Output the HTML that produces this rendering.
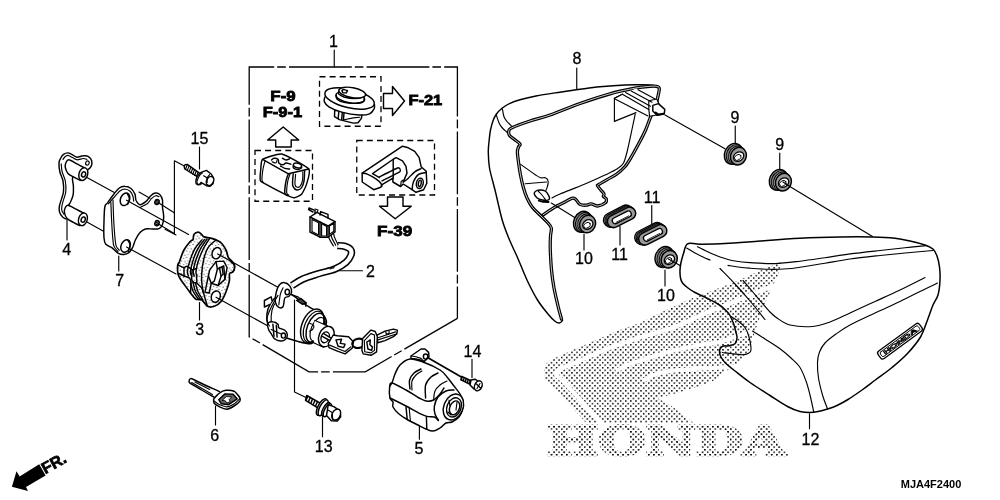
<!DOCTYPE html>
<html lang="en">
<head>
<meta charset="utf-8">
<title>Side Cover / Combination Switch Parts Diagram</title>
<style>
html,body{margin:0;padding:0;background:#fff;}
body{width:1000px;height:500px;overflow:hidden;}
svg{display:block;}
.l{font-family:"Liberation Sans",sans-serif;font-size:16px;fill:#000;stroke:#000;stroke-width:0.3px;}
.b{font-family:"Liberation Sans",sans-serif;font-weight:bold;fill:#000;}
.k{fill:none;stroke:#000;stroke-width:1.45;stroke-linecap:round;stroke-linejoin:round;}
.t{fill:none;stroke:#000;stroke-width:1.15;stroke-linecap:round;stroke-linejoin:round;}
.w{fill:#fff;stroke:#000;stroke-width:1.45;stroke-linecap:round;stroke-linejoin:round;}
.d{fill:none;stroke:#000;stroke-width:1.3;stroke-dasharray:6 4.1;}
.dd{fill:none;stroke:#000;stroke-width:1.3;stroke-dasharray:62.8 3 8.6 3.2;stroke-linejoin:miter;}
</style>
</head>
<body>
<svg width="1000" height="500" viewBox="0 0 1000 500" style="filter:grayscale(1)">
<defs>
<pattern id="ht" x="0.3" y="0.9" width="5.12" height="5.12" patternUnits="userSpaceOnUse">
<rect x="0" y="0" width="1.5" height="1.5" fill="#0a0a0a"/>
<rect x="2.56" y="2.56" width="1.5" height="1.5" fill="#0a0a0a"/>
</pattern>
<pattern id="sp" width="6.4" height="6.4" patternUnits="userSpaceOnUse">
<circle cx="1.0" cy="1.3" r="0.55" fill="#222"/><circle cx="4.4" cy="2.3" r="0.55" fill="#222"/><circle cx="2.5" cy="4.8" r="0.55" fill="#222"/><circle cx="5.6" cy="5.6" r="0.5" fill="#222"/>
</pattern>
</defs>
<rect width="1000" height="500" fill="#fff"/>

<!-- HALFTONE-WING -->
<g id="wing">
<path fill="url(#ht)" d="M782.0 261.5L770.0 266.5L755.0 273.0L736.0 281.4L718.0 288.5L692.8 298.0L664.0 311.0L640.0 323.0L617.0 331.0L581.0 346.5L556.0 357.5L548.0 361.5L545.0 365.0L544.5 370.0L545.0 378.5L552.0 386.0L566.0 401.0L580.0 416.0L586.0 423.0L693.8 423.0L674.0 407.7L661.0 400.0L657.0 398.0L672.0 394.5L700.0 386.0L714.0 380.5L722.0 373.0L736.0 366.0L748.0 352.0L753.0 338.0L758.0 322.0L765.0 303.0L772.0 288.0L778.0 275.0Z"/>
<path fill="none" stroke="#fff" stroke-width="4.2" stroke-linejoin="round" d="M779.0 284.0C775.8 285.2 768.0 287.8 760.0 291.0C752.0 294.2 739.8 299.4 731.0 303.0C722.2 306.6 716.3 308.5 707.0 312.5C697.7 316.5 686.2 322.8 675.0 327.0C663.8 331.2 650.5 334.2 640.0 337.5C629.5 340.8 619.5 344.2 612.0 347.0C604.5 349.8 601.0 351.4 595.0 354.0C589.0 356.6 582.5 359.4 576.0 362.4C569.5 365.4 558.0 368.7 556.0 372.0C554.0 375.3 560.0 377.4 564.0 382.0C568.0 386.6 574.0 392.8 580.0 399.5C586.0 406.2 596.2 417.6 600.0 422.0C603.8 426.4 602.5 425.3 603.0 426.0"/>
<path fill="none" stroke="#fff" stroke-width="4.0" stroke-linejoin="round" d="M752.0 331.0C749.3 331.9 741.7 334.6 736.0 336.5C730.3 338.4 723.7 341.2 718.0 342.5C712.3 343.8 707.0 343.7 702.0 344.5C697.0 345.3 693.3 346.3 688.0 347.5C682.7 348.7 675.5 350.1 670.0 351.5C664.5 352.9 660.0 354.5 655.0 356.0C650.0 357.5 644.8 358.9 640.0 360.5C635.2 362.1 630.0 363.8 626.0 365.5C622.0 367.2 617.7 370.1 616.0 371.0"/>
<path fill="none" stroke="#fff" stroke-width="4.0" stroke-linejoin="round" d="M740.0 366.0C736.8 366.2 726.7 367.0 721.0 367.4C715.3 367.8 711.2 367.9 706.0 368.2C700.8 368.5 696.0 368.8 690.0 369.3C684.0 369.8 675.8 370.1 670.0 371.0C664.2 371.9 659.5 372.9 655.0 374.5C650.5 376.1 645.0 379.5 643.0 380.5"/>
<text x="546.8" y="454.8" font-family="DejaVu Serif,Liberation Serif,serif" font-weight="bold" font-size="39" textLength="238.5" lengthAdjust="spacingAndGlyphs" fill="url(#ht)" stroke="url(#ht)" stroke-width="2.8" stroke-linejoin="miter">HONDA</text>
</g>

<!-- LEADERS -->
<g id="leaders" class="t">
<path d="M334.25 50V67"/>
<path d="M199.5 147V169"/>
<path d="M67 220V240"/>
<path d="M118.75 256V271"/>
<path d="M199.5 302.5V320"/>
<path d="M332.5 270.75H362.5"/>
<path d="M215.5 406V425"/>
<path d="M322.5 417.5V436.75"/>
<path d="M419.4 426.6V439.2"/>
<path d="M472 359.4V377.6"/>
<path d="M576.75 68V88.5"/>
<path d="M735.25 126V144"/>
<path d="M779.75 153V171"/>
<path d="M584 234V250"/>
<path d="M620 226V245"/>
<path d="M651.75 205.5V224"/>
<path d="M665 270V286"/>
<path d="M809.5 413.75V428.75"/>
<path d="M665 115L725 148.75"/>
<path d="M789 186L872.5 236.5"/>
</g>


<g id="frames">
<path class="dd" d="M249.2 104.8V67H457.4V318.4"/>
<path class="dd" d="M249.2 104.8V336.8L309 371.8H365.3L457.4 318.4" stroke-dashoffset="62.8"/>
<rect class="d" x="319.5" y="76.75" width="61.5" height="49.5"/>
<rect class="d" x="255" y="150.5" width="57.5" height="50.75"/>
<rect class="d" x="356.75" y="140.5" width="77.75" height="54.5"/>
<path class="w" d="M383.5 93.5H392.5V86.5L404.5 101L392.5 115.5V108.5H383.5Z" stroke-width="1"/>
<path class="w" d="M283.2 127L298.7 140H291.2V147H275.7V140H267.7Z" stroke-width="1"/>
<path class="w" d="M387.5 197H403V206.25H411.25L395.2 218.75L379.5 206.25H387.5Z" stroke-width="1"/>
<path fill="#000" d="M11.9 486.7L16.5 471.3L19.6 476.4L39.2 464.3L45.6 475.6L26 487L28 490.9Z"/>
</g>

<!-- PARTS -->
<g id="parts">
<path fill="#fff" stroke="none" d="M659.3 88.3C658.4 87.8 657.2 86.1 654.0 85.5C650.8 84.9 644.8 84.9 640.0 84.8C635.2 84.7 631.7 84.7 625.0 85.0C618.3 85.3 607.5 86.1 600.0 86.8C592.5 87.5 586.7 88.4 580.0 89.3C573.3 90.2 567.3 91.1 560.0 92.2C552.7 93.3 542.7 94.7 536.0 96.0C529.3 97.3 524.3 98.6 520.0 99.8C515.7 101.0 513.0 101.9 510.0 103.3C507.0 104.7 504.2 106.5 502.0 108.3C499.8 110.1 497.9 112.0 496.5 114.0C495.1 116.0 494.3 117.3 493.3 120.0C492.3 122.7 491.2 126.7 490.5 130.0C489.8 133.3 489.6 136.3 489.2 140.0C488.8 143.7 488.2 147.3 488.3 152.0C488.4 156.7 488.4 161.7 489.5 168.0C490.6 174.3 492.8 181.2 495.0 190.0C497.2 198.8 500.0 212.5 502.5 221.0C505.0 229.5 507.5 234.9 510.0 241.0C512.5 247.1 514.7 251.0 517.5 257.5C520.3 264.0 523.7 272.9 527.0 280.0C530.3 287.1 534.0 294.3 537.5 300.0C541.0 305.7 545.1 310.4 548.0 314.0C550.9 317.6 553.1 319.8 555.0 321.3C556.9 322.8 558.2 323.1 559.5 323.0C560.8 322.9 562.8 323.3 562.5 320.5C562.2 317.7 559.4 311.4 558.0 306.0C556.6 300.6 555.1 294.0 554.0 288.0C552.9 282.0 552.1 276.3 551.5 270.0C550.9 263.7 550.5 255.7 550.3 250.0C550.1 244.3 550.3 239.7 550.5 236.0C550.7 232.3 551.8 230.2 551.3 228.0C550.8 225.8 549.4 224.7 547.5 222.5C545.6 220.3 542.5 217.5 540.0 215.0C537.5 212.5 534.7 210.3 532.5 207.5C530.3 204.7 528.5 201.2 527.0 198.0C525.5 194.8 524.6 191.8 523.5 188.0C522.4 184.2 521.3 179.2 520.5 175.0C519.7 170.8 519.1 166.8 518.6 163.0C518.1 159.2 517.4 154.7 517.4 152.0C517.4 149.3 518.1 148.3 518.5 147.0C518.9 145.7 520.7 145.2 520.0 144.0C519.3 142.8 516.2 140.9 514.5 139.5C512.8 138.1 510.6 136.9 509.6 135.5C508.7 134.1 508.4 132.3 508.8 131.0C509.2 129.7 508.5 129.5 512.0 127.8C515.5 126.1 523.7 123.1 530.0 121.0C536.3 118.9 541.7 117.9 550.0 115.0C558.3 112.1 570.0 107.0 580.0 103.5C590.0 100.0 600.8 96.3 610.0 93.8C619.2 91.2 628.3 89.5 635.0 88.2C641.7 87.0 646.4 86.6 650.0 86.3C653.6 86.0 655.0 86.0 656.5 86.4C658.0 86.8 658.8 88.3 659.3 88.6C659.8 88.9 660.2 88.8 659.3 88.3Z"/>
<path class="k" d="M659.3 88.3C658.4 87.8 657.2 86.1 654.0 85.5C650.8 84.9 644.8 84.9 640.0 84.8C635.2 84.7 631.7 84.7 625.0 85.0C618.3 85.3 607.5 86.1 600.0 86.8C592.5 87.5 586.7 88.4 580.0 89.3C573.3 90.2 567.3 91.1 560.0 92.2C552.7 93.3 542.7 94.7 536.0 96.0C529.3 97.3 524.3 98.6 520.0 99.8C515.7 101.0 513.0 101.9 510.0 103.3C507.0 104.7 504.2 106.5 502.0 108.3C499.8 110.1 497.9 112.0 496.5 114.0C495.1 116.0 494.3 117.3 493.3 120.0C492.3 122.7 491.2 126.7 490.5 130.0C489.8 133.3 489.6 136.3 489.2 140.0C488.8 143.7 488.2 147.3 488.3 152.0C488.4 156.7 488.4 161.7 489.5 168.0C490.6 174.3 492.8 181.2 495.0 190.0C497.2 198.8 500.0 212.5 502.5 221.0C505.0 229.5 507.5 234.9 510.0 241.0C512.5 247.1 514.7 251.0 517.5 257.5C520.3 264.0 523.7 272.9 527.0 280.0C530.3 287.1 534.0 294.3 537.5 300.0C541.0 305.7 545.1 310.4 548.0 314.0C550.9 317.6 553.1 319.8 555.0 321.3C556.9 322.8 558.2 323.1 559.5 323.0C560.8 322.9 562.0 320.9 562.5 320.5"/>
<path d="M561.5 319.0C560.9 316.8 559.2 311.2 558.0 306.0C556.8 300.8 555.1 294.0 554.0 288.0C552.9 282.0 552.1 276.3 551.5 270.0C550.9 263.7 550.5 255.7 550.3 250.0C550.1 244.3 550.3 239.7 550.5 236.0C550.7 232.3 551.8 230.2 551.3 228.0C550.8 225.8 549.4 224.7 547.5 222.5C545.6 220.3 542.5 217.5 540.0 215.0C537.5 212.5 534.7 210.3 532.5 207.5C530.3 204.7 528.5 201.2 527.0 198.0C525.5 194.8 524.6 191.8 523.5 188.0C522.4 184.2 521.3 179.2 520.5 175.0C519.7 170.8 519.1 166.8 518.6 163.0C518.1 159.2 517.4 154.7 517.4 152.0C517.4 149.3 518.1 148.3 518.5 147.0C518.9 145.7 520.7 145.2 520.0 144.0C519.3 142.8 516.2 140.9 514.5 139.5C512.8 138.1 510.6 136.9 509.6 135.5C508.7 134.1 508.4 132.3 508.8 131.0C509.2 129.7 508.5 129.5 512.0 127.8C515.5 126.1 523.7 123.1 530.0 121.0C536.3 118.9 541.7 117.9 550.0 115.0C558.3 112.1 570.0 107.0 580.0 103.5C590.0 100.0 600.8 96.3 610.0 93.8C619.2 91.2 628.3 89.5 635.0 88.2C641.7 87.0 646.4 86.6 650.0 86.3C653.6 86.0 655.0 86.0 656.5 86.4C658.0 86.8 659.1 86.5 659.3 88.6C659.4 90.7 658.0 95.8 657.4 99.0C656.8 102.2 656.6 105.2 655.5 108.0C654.4 110.8 652.6 112.3 651.0 116.0C649.4 119.7 647.6 125.5 645.6 130.0C643.6 134.5 641.6 138.3 639.2 142.8C636.8 147.3 633.6 153.2 631.2 157.2C628.8 161.2 627.2 164.0 624.8 166.8C622.4 169.6 619.7 171.9 616.8 174.0C613.9 176.1 610.2 177.8 607.2 179.6C604.2 181.4 600.1 183.5 598.5 184.6C596.9 185.7 597.4 185.3 597.8 186.2C598.2 187.1 599.8 188.7 600.8 190.0C601.8 191.3 603.6 192.9 604.0 194.0C604.4 195.1 603.0 195.6 603.4 196.4C603.8 197.2 605.9 197.7 606.2 198.8C606.5 199.9 606.8 201.6 605.4 202.8C604.0 204.0 600.0 205.8 597.6 206.0C595.2 206.2 593.1 203.9 591.2 203.8C589.3 203.7 588.3 205.1 586.4 205.2C584.5 205.3 581.8 205.4 580.0 204.4C578.2 203.4 576.9 200.2 575.6 199.2C574.3 198.2 574.1 197.8 572.0 198.4C569.9 199.0 566.0 201.5 563.0 203.0C560.0 204.5 557.3 205.6 554.0 207.6C550.7 209.6 545.0 213.6 543.2 214.8" fill="none" stroke="#000" stroke-width="3.3" stroke-linecap="round" stroke-linejoin="round"/><path d="M561.5 319.0C560.9 316.8 559.2 311.2 558.0 306.0C556.8 300.8 555.1 294.0 554.0 288.0C552.9 282.0 552.1 276.3 551.5 270.0C550.9 263.7 550.5 255.7 550.3 250.0C550.1 244.3 550.3 239.7 550.5 236.0C550.7 232.3 551.8 230.2 551.3 228.0C550.8 225.8 549.4 224.7 547.5 222.5C545.6 220.3 542.5 217.5 540.0 215.0C537.5 212.5 534.7 210.3 532.5 207.5C530.3 204.7 528.5 201.2 527.0 198.0C525.5 194.8 524.6 191.8 523.5 188.0C522.4 184.2 521.3 179.2 520.5 175.0C519.7 170.8 519.1 166.8 518.6 163.0C518.1 159.2 517.4 154.7 517.4 152.0C517.4 149.3 518.1 148.3 518.5 147.0C518.9 145.7 520.7 145.2 520.0 144.0C519.3 142.8 516.2 140.9 514.5 139.5C512.8 138.1 510.6 136.9 509.6 135.5C508.7 134.1 508.4 132.3 508.8 131.0C509.2 129.7 508.5 129.5 512.0 127.8C515.5 126.1 523.7 123.1 530.0 121.0C536.3 118.9 541.7 117.9 550.0 115.0C558.3 112.1 570.0 107.0 580.0 103.5C590.0 100.0 600.8 96.3 610.0 93.8C619.2 91.2 628.3 89.5 635.0 88.2C641.7 87.0 646.4 86.6 650.0 86.3C653.6 86.0 655.0 86.0 656.5 86.4C658.0 86.8 659.1 86.5 659.3 88.6C659.4 90.7 658.0 95.8 657.4 99.0C656.8 102.2 656.6 105.2 655.5 108.0C654.4 110.8 652.6 112.3 651.0 116.0C649.4 119.7 647.6 125.5 645.6 130.0C643.6 134.5 641.6 138.3 639.2 142.8C636.8 147.3 633.6 153.2 631.2 157.2C628.8 161.2 627.2 164.0 624.8 166.8C622.4 169.6 619.7 171.9 616.8 174.0C613.9 176.1 610.2 177.8 607.2 179.6C604.2 181.4 600.1 183.5 598.5 184.6C596.9 185.7 597.4 185.3 597.8 186.2C598.2 187.1 599.8 188.7 600.8 190.0C601.8 191.3 603.6 192.9 604.0 194.0C604.4 195.1 603.0 195.6 603.4 196.4C603.8 197.2 605.9 197.7 606.2 198.8C606.5 199.9 606.8 201.6 605.4 202.8C604.0 204.0 600.0 205.8 597.6 206.0C595.2 206.2 593.1 203.9 591.2 203.8C589.3 203.7 588.3 205.1 586.4 205.2C584.5 205.3 581.8 205.4 580.0 204.4C578.2 203.4 576.9 200.2 575.6 199.2C574.3 198.2 574.1 197.8 572.0 198.4C569.9 199.0 566.0 201.5 563.0 203.0C560.0 204.5 557.3 205.6 554.0 207.6C550.7 209.6 545.0 213.6 543.2 214.8" fill="none" stroke="#fff" stroke-width="0.8" stroke-linecap="round" stroke-linejoin="round"/>
<path class="t" d="M512.0 126.4C511.2 125.6 508.3 123.1 507.0 121.5C505.7 119.9 504.8 118.9 504.0 116.8C503.2 114.7 502.7 110.1 502.4 108.8"/>
<path class="t" d="M507.0 132.3C506.2 131.5 503.3 129.0 502.0 127.5C500.7 126.0 500.2 125.4 499.2 123.2C498.2 121.0 496.7 116.0 496.2 114.6"/>
<path class="t" d="M635.2 114.2C634.8 116.3 633.8 121.0 632.5 127.0C631.2 133.0 629.0 144.0 627.5 150.0C626.0 156.0 625.2 159.8 623.5 163.0C621.8 166.2 620.1 167.0 617.0 169.0C613.9 171.0 610.3 172.5 605.0 175.0C599.7 177.5 592.5 180.8 585.0 184.0C577.5 187.2 565.5 191.7 560.0 194.0C554.5 196.3 553.3 197.3 552.0 198.0"/>
<path class="t" d="M520.7 164.4C521.8 165.2 524.5 167.1 527.0 168.9C529.5 170.7 533.8 173.7 536.0 175.2C538.2 176.7 538.9 177.2 540.5 177.7C542.1 178.1 544.6 177.3 545.9 177.9C547.2 178.5 548.0 180.0 548.2 181.5C548.4 183.0 547.7 185.4 547.3 186.9C546.9 188.4 546.1 189.9 545.9 190.5"/>
<path class="t" d="M525.2 183.8L546.5 182.0"/>
<path class="t" d="M622.4 94.2L614.4 98.2L614.4 121.4L636.0 112.6"/>
<path d="M622.4 94.2L636.0 88.6L656.8 99.0L659.2 104.6L656.8 115.0L649.6 116.6L647.5 115.5L615.5 99.0Z" fill="#fff" stroke="none"/>
<path class="t" d="M614.4 98.2L622.4 94.2L648.8 109.4L649.6 116.3"/>
<path class="t" d="M615.5 99.2L648.0 116.0"/>
<path class="t" d="M625.6 92.6L650.4 106.2"/>
<path class="t" d="M631.2 91.0L652.0 102.2"/>
<path class="t" d="M638.0 89.8L655.2 99.0"/>
<path class="t" d="M648.8 109.4L648.8 100.8L656.8 99.0L659.2 104.6L656.8 115.0L649.6 116.3"/>
<path class="w" d="M652.8 105.4L658.4 103.6L664.8 109.4L664.2 114.0L657.0 115.2L652.8 111.0Z"/>
<path class="k" d="M655.5 112.5L658.5 114.6L663.5 113.8" style="stroke-width:2"/>
<path class="w" d="M534.2 193.7C534.1 192.6 535.0 191.6 536.0 191.0C537.0 190.4 539.0 189.9 540.5 189.9C542.0 189.9 543.7 190.2 545.0 191.0C546.3 191.8 547.5 193.3 548.2 194.6C549.0 195.9 549.7 197.9 549.5 198.9C549.3 199.9 548.3 200.2 547.1 200.4C545.9 200.6 544.0 200.4 542.3 200.0C540.6 199.6 538.2 198.8 536.9 197.7C535.5 196.6 534.4 194.8 534.2 193.7Z"/>
<path class="t" d="M538.5 191.5C539.1 192.1 540.8 193.6 542.0 195.0C543.2 196.4 544.9 199.0 545.5 199.8"/>
<path class="k" d="M538.8 200.6L543.0 201.8L548.6 202.0" style="stroke-width:1.8"/>
<path class="t" d="M551.3 203.1L574.7 217.5"/>
<path fill="#fff" fill-opacity="0" stroke="#000" stroke-width="1.5" stroke-linejoin="round" d="M687.5 243.8C690.2 242.2 693.8 244.2 700.0 244.2C706.2 244.1 715.0 244.0 725.0 243.5C735.0 243.0 747.5 241.9 760.0 241.0C772.5 240.1 786.7 239.0 800.0 238.3C813.3 237.6 827.9 237.2 840.0 237.0C852.1 236.8 863.3 236.8 872.5 237.0C881.7 237.2 888.8 237.6 895.0 238.3C901.2 239.0 905.0 239.9 910.0 241.0C915.0 242.1 921.2 243.7 925.0 245.0C928.8 246.3 931.0 247.2 933.0 249.0C935.0 250.8 935.9 253.0 937.0 256.0C938.1 259.0 939.0 263.0 939.5 267.0C940.0 271.0 940.2 275.3 940.0 280.0C939.8 284.7 939.2 290.8 938.0 295.0C936.8 299.2 934.8 300.8 933.0 305.0C931.2 309.2 929.6 314.7 927.5 320.0C925.4 325.3 923.9 331.3 920.5 337.0C917.1 342.7 911.8 348.9 907.0 354.0C902.2 359.1 897.2 363.2 892.0 367.5C886.8 371.8 881.0 375.8 876.0 379.5C871.0 383.2 866.7 386.7 862.0 390.0C857.3 393.3 852.2 396.9 848.0 399.5C843.8 402.1 840.4 403.9 837.0 405.5C833.6 407.1 830.7 408.0 827.5 409.0C824.3 410.0 820.9 410.9 818.0 411.5C815.1 412.1 813.0 412.5 810.0 412.5C807.0 412.5 803.8 412.5 800.0 411.5C796.2 410.5 792.5 409.2 787.5 406.5C782.5 403.8 776.2 399.5 770.0 395.5C763.8 391.5 755.8 386.6 750.0 382.5C744.2 378.4 739.2 374.3 735.0 371.0C730.8 367.7 727.3 364.8 725.0 362.5C722.7 360.2 721.9 358.7 721.0 357.0C720.1 355.3 719.6 354.0 719.5 352.5C719.4 351.0 719.8 349.1 720.5 348.0C721.2 346.9 722.1 346.4 723.5 346.0C724.9 345.6 727.1 346.2 729.0 345.8C730.9 345.4 733.7 345.1 735.0 343.8C736.3 342.5 736.8 339.9 737.0 338.0C737.2 336.1 736.6 334.9 736.0 332.5C735.4 330.1 734.5 326.3 733.5 323.5C732.5 320.7 731.2 317.7 730.0 315.5C728.8 313.3 728.0 312.4 726.0 310.5C724.0 308.6 721.1 306.0 718.0 304.0C714.9 302.0 711.3 300.4 707.5 298.5C703.7 296.6 698.2 294.2 695.0 292.5C691.8 290.8 690.1 289.6 688.0 288.0C685.9 286.4 683.8 284.7 682.5 283.0C681.2 281.3 680.9 280.2 680.5 278.0C680.1 275.8 679.9 272.6 680.0 270.0C680.1 267.4 680.4 265.2 681.0 262.5C681.6 259.8 682.4 256.6 683.5 253.5C684.6 250.4 684.8 245.4 687.5 243.8Z"/>
<path class="t" d="M686.6 248.0C688.0 248.8 692.3 251.5 695.0 253.0C697.7 254.5 700.5 255.8 703.0 257.0C705.5 258.2 708.8 259.5 710.0 260.0"/>
<path class="t" d="M697.4 246.8C698.7 247.4 702.1 249.1 705.0 250.5C707.9 251.9 711.7 253.7 715.0 255.0C718.3 256.3 721.7 257.5 725.0 258.5C728.3 259.5 730.8 260.3 735.0 261.0C739.2 261.7 743.3 262.2 750.0 262.6C756.7 263.0 766.7 263.8 775.0 263.6C783.3 263.4 791.7 262.2 800.0 261.2C808.3 260.2 816.7 258.9 825.0 257.7C833.3 256.5 840.8 255.1 850.0 253.9C859.2 252.7 870.8 251.5 880.0 250.5C889.2 249.5 897.3 248.6 905.0 247.8C912.7 247.0 922.5 246.0 926.0 245.6"/>
<path class="t" d="M728.0 265.4C730.0 265.7 736.3 266.7 740.0 267.2C743.7 267.7 745.0 267.8 750.0 268.2C755.0 268.6 763.8 269.2 770.0 269.3C776.2 269.4 782.5 269.1 787.5 268.8C792.5 268.5 793.8 268.2 800.0 267.3C806.2 266.4 816.7 264.6 825.0 263.2C833.3 261.8 840.8 260.3 850.0 259.0C859.2 257.7 870.8 256.5 880.0 255.5C889.2 254.5 896.2 253.8 905.0 253.0C913.8 252.2 928.3 250.9 933.0 250.5"/>
<path class="t" d="M720.0 268.5C722.5 271.1 730.0 278.6 735.0 284.0C740.0 289.4 745.0 295.1 750.0 301.0C755.0 306.9 762.5 316.4 765.0 319.5"/>
<path class="t" d="M743.0 280.5C744.5 282.2 749.2 287.7 752.0 291.0C754.8 294.3 757.0 297.0 760.0 300.5C763.0 304.0 767.2 309.1 770.0 312.0C772.8 314.9 773.7 315.8 777.0 318.0C780.3 320.2 784.1 323.6 790.0 325.0C795.9 326.4 805.8 327.0 812.5 326.5C819.2 326.0 823.8 324.2 830.0 322.0C836.2 319.8 842.5 316.4 850.0 313.0C857.5 309.6 866.7 305.3 875.0 301.5C883.3 297.7 891.7 294.0 900.0 290.0C908.3 286.0 920.8 279.6 925.0 277.5"/>
<path class="t" d="M937.5 283.0C934.6 284.4 926.2 288.4 920.0 291.5C913.8 294.6 907.5 297.9 900.0 301.5C892.5 305.1 883.3 309.1 875.0 313.0C866.7 316.9 856.5 321.5 850.0 325.0C843.5 328.5 840.2 331.0 836.0 334.0C831.8 337.0 827.8 340.0 825.0 343.0C822.2 346.0 820.8 348.8 819.5 352.0C818.2 355.2 817.7 358.2 817.5 362.5C817.3 366.8 817.7 372.6 818.5 378.0C819.3 383.4 821.0 389.8 822.5 395.0C824.0 400.2 826.7 406.7 827.5 409.0"/>
<path class="t" d="M752.5 331.0C754.6 332.3 760.4 336.0 765.0 339.0C769.6 342.0 775.7 345.6 780.0 348.8C784.3 352.0 787.7 354.9 791.0 358.0C794.3 361.1 797.5 363.7 800.0 367.5C802.5 371.3 804.3 376.4 806.0 381.0C807.7 385.6 808.7 389.8 810.0 395.0C811.3 400.2 813.2 409.4 813.8 412.3"/>
<path class="t" d="M731.0 316.5C732.2 317.2 735.7 319.2 738.0 321.0C740.3 322.8 743.2 324.8 745.0 327.5C746.8 330.2 748.0 333.2 749.0 337.0C750.0 340.8 751.2 347.2 751.0 350.0C750.8 352.8 749.4 352.7 748.0 353.5C746.6 354.3 745.2 354.6 742.5 354.7C739.8 354.8 735.3 354.2 732.0 353.8C728.7 353.4 724.1 352.7 722.5 352.5"/>
<g transform="translate(900,341.2) rotate(-36.2)"><rect x="-25.6" y="-4.6" width="51.2" height="9.2" rx="2.6" class="w" style="stroke-width:1.3"/><rect x="-23.4" y="-2.7" width="46.8" height="5.4" rx="1.6" class="t" style="stroke-width:0.9"/><text x="0" y="1.9" text-anchor="middle" font-family="Liberation Sans,sans-serif" font-weight="bold" font-size="5.2" textLength="40" lengthAdjust="spacingAndGlyphs" fill="#fff" stroke="#000" stroke-width="0.6">HONDA</text></g>
<path class="t" d="M86.9 177.4 L114.8 192.7"/>
<path class="t" d="M86.0 221.5 L104.0 231.4"/>
<path class="t" d="M176.0 235.0 L165.0 229.3"/>
<path class="w" d="M60.8 158.0C61.5 156.5 62.3 155.2 63.5 154.4C64.7 153.5 66.3 152.8 68.0 152.9C69.6 153.1 71.9 154.5 73.4 155.3C74.9 156.0 75.3 157.1 77.0 157.2C78.6 157.3 81.4 155.9 83.3 155.8C85.1 155.6 86.7 155.5 88.1 156.3C89.6 157.2 91.3 159.1 91.7 160.8C92.2 162.5 91.7 165.1 91.0 166.6C90.4 168.1 88.9 168.9 87.8 169.8C86.6 170.7 86.3 171.6 84.2 172.0C82.1 172.3 77.1 170.9 75.2 172.0C73.2 173.0 72.8 175.9 72.5 178.3C72.2 180.7 73.3 183.5 73.4 186.4C73.5 189.2 73.6 192.7 73.0 195.4C72.5 198.1 71.0 200.6 70.2 202.6C69.3 204.5 67.8 204.7 68.0 207.1C68.2 209.5 71.7 215.0 71.6 217.0C71.4 219.0 68.6 219.1 67.1 219.1C65.6 219.1 63.9 218.2 62.6 217.0C61.3 215.7 59.9 213.4 59.4 211.6C58.8 209.8 59.1 208.1 59.4 206.2C59.7 204.2 60.5 202.3 61.2 199.9C61.8 197.5 63.2 194.9 63.5 191.8C63.8 188.6 63.6 184.3 63.0 181.0C62.4 177.7 60.6 175.0 59.9 172.0C59.2 169.0 58.8 165.3 59.0 163.0C59.1 160.7 60.0 159.4 60.8 158.0Z"/>
<path class="t" d="M63.0 159.4C63.3 158.9 64.5 157.2 65.3 156.5C66.1 155.9 66.8 155.3 68.0 155.4C69.2 155.6 71.0 156.9 72.5 157.6C74.0 158.3 75.2 159.6 77.0 159.8C78.8 159.9 81.6 158.6 83.3 158.5C84.9 158.4 86.3 159.2 86.9 159.4"/>
<path class="t" d="M61.2 163.9C61.3 165.2 61.5 169.1 62.2 172.0C62.9 174.8 64.7 177.7 65.3 181.0C65.9 184.3 66.1 188.6 65.8 191.8C65.5 194.9 64.2 197.5 63.5 199.9C62.8 202.3 62.1 204.4 61.9 206.2C61.6 208.0 61.5 209.3 61.9 210.7C62.2 212.0 63.7 213.7 64.0 214.3"/>
<path class="w" d="M84.7 168.0C83.4 167.3 79.6 165.3 77.0 163.9C74.3 162.5 70.8 159.9 68.9 159.8C67.0 159.6 66.4 161.7 65.8 163.0C65.2 164.3 64.9 165.8 65.3 167.5C65.7 169.2 66.5 171.8 68.0 173.4C69.5 175.1 72.3 176.2 74.3 177.4C76.3 178.6 79.2 179.9 80.2 180.4"/>
<ellipse class="w" cx="83.3" cy="174.1" rx="4.3" ry="6.5" transform="rotate(18 83.3 174.1)"/>
<ellipse class="k" cx="83.6" cy="174.4" rx="2.0" ry="2.7" transform="rotate(18 83.6 174.4)"/>
<ellipse class="t" cx="87.4" cy="163.0" rx="1.7" ry="2.2" transform="rotate(20 87.4 163.0)"/>
<path class="w" d="M84.2 213.4C82.8 212.7 78.8 210.6 76.1 209.2C73.4 207.9 69.8 205.5 68.0 205.3C66.2 205.1 65.7 206.8 65.1 208.0C64.5 209.2 64.1 210.7 64.4 212.5C64.7 214.2 65.6 216.8 67.1 218.4C68.6 220.1 71.3 221.2 73.4 222.4C75.5 223.6 78.6 225.1 79.7 225.6"/>
<ellipse class="w" cx="82.9" cy="219.3" rx="4.3" ry="6.5" transform="rotate(18 82.9 219.3)"/>
<ellipse class="k" cx="83.2" cy="219.6" rx="2.0" ry="2.7" transform="rotate(18 83.2 219.6)"/>
<path class="w" d="M104.9 206.5C105.5 203.3 106.2 204.8 107.6 202.9C108.9 201.0 111.0 197.6 113.0 195.2C114.9 192.7 117.3 189.5 119.3 188.0C121.2 186.5 122.7 186.1 124.7 186.2C126.6 186.2 129.3 187.2 131.0 188.5C132.7 189.8 134.1 191.9 134.9 193.9C135.8 195.8 135.2 198.4 136.0 200.2C136.9 202.0 138.3 204.5 140.0 204.7C141.7 204.8 144.5 202.6 146.3 201.1C148.1 199.6 149.3 197.0 150.8 195.7C152.3 194.3 153.8 193.2 155.3 193.0C156.8 192.8 158.6 193.2 159.8 194.4C161.0 195.6 162.0 198.0 162.5 200.2C162.9 202.3 162.3 204.7 162.5 207.4C162.7 210.1 163.7 213.5 163.7 216.4C163.7 219.2 163.3 222.4 162.5 224.5C161.7 226.5 160.5 227.9 158.9 228.6C157.2 229.4 154.8 228.9 152.6 229.0C150.3 229.0 147.5 228.4 145.4 229.0C143.3 229.6 141.6 230.8 140.0 232.6C138.3 234.4 136.7 237.4 135.5 239.8C134.3 242.2 133.8 244.9 132.8 247.0C131.7 249.1 130.7 251.1 129.2 252.4C127.7 253.6 125.6 254.4 123.8 254.5C122.0 254.7 120.3 254.4 118.4 253.3C116.4 252.2 114.2 249.4 112.1 247.9C110.0 246.4 107.1 245.9 105.8 244.3C104.4 242.6 104.3 241.7 104.0 238.0C103.7 234.2 103.8 227.0 104.0 221.8C104.1 216.5 104.3 209.6 104.9 206.5Z"/>
<path class="t" d="M108.5 203.8C109.4 202.7 111.9 199.6 113.9 197.5C115.8 195.3 118.4 192.2 120.2 190.8C122.0 189.4 123.0 189.0 124.7 189.0C126.3 189.1 128.7 190.1 130.1 191.2C131.4 192.3 132.2 194.0 132.8 195.7C133.4 197.3 133.5 200.2 133.7 201.1"/>
<path class="t" d="M110.8 202.0C111.0 205.0 111.3 214.3 111.6 220.0C111.9 225.7 112.2 231.8 112.6 236.2C113.0 240.5 113.0 243.5 113.9 246.1C114.8 248.6 117.3 250.6 118.0 251.5"/>
<path class="t" d="M113.0 200.2C113.1 203.5 113.4 214.0 113.7 220.0C114.0 226.0 114.4 231.8 114.8 236.2C115.2 240.5 115.5 243.7 116.2 246.1C117.0 248.4 118.8 249.5 119.3 250.2"/>
<path class="t" d="M140.0 207.4C141.2 206.8 145.2 205.3 147.2 203.8C149.1 202.3 150.2 199.7 151.7 198.4C153.1 197.0 154.6 196.0 155.8 195.7C157.0 195.4 158.4 196.4 158.9 196.6"/>
<ellipse class="k" cx="125.0" cy="199.3" rx="4.5" ry="6.5" transform="rotate(22 125.0 199.3)"/>
<path class="t" d="M127.0 193.4C127.4 194.2 129.1 196.5 129.2 198.4C129.3 200.3 128.0 203.6 127.7 204.7"/>
<ellipse class="k" cx="125.6" cy="246.0" rx="4.5" ry="6.5" transform="rotate(22 125.6 246.0)"/>
<path class="t" d="M127.7 240.1C128.1 241.0 129.8 243.3 129.9 245.2C130.0 247.1 128.7 250.4 128.5 251.5"/>
<ellipse class="k" cx="157.0" cy="202.0" rx="2.1" ry="2.6" transform="rotate(20 157.0 202.0)"/>
<ellipse class="t" cx="157.0" cy="202.0" rx="1.0" ry="1.3" transform="rotate(20 157.0 202.0)"/>
<ellipse class="k" cx="157.0" cy="223.2" rx="2.1" ry="2.6" transform="rotate(20 157.0 223.2)"/>
<ellipse class="t" cx="157.0" cy="223.2" rx="1.0" ry="1.3" transform="rotate(20 157.0 223.2)"/>
<path class="t" d="M126.5 200.2 L188.6 234.4"/>
<path class="t" d="M126.5 247.0 L176.0 274.0"/>
<path class="t" d="M139.0 192.1 L150.0 198.2"/>
<path class="t" d="M158.5 202.8 L174.2 212.8"/>
<path class="t" d="M158.5 224.0 L174.2 233.5"/>
<path class="t" d="M174.4 233.7L174.4 160.8L184.8 166.2"/>
<path class="w" d="M199.8 173.4L187.2 164.4L185.1 164.6L184.2 166.8L184.8 169.0L198.0 177.0"/>
<path class="t" d="M187.2 164.9 L185.5 169.2"/>
<path class="t" d="M189.0 166.1 L187.3 170.4"/>
<path class="t" d="M190.8 167.4 L189.1 171.7"/>
<path class="t" d="M192.6 168.7 L190.9 173.0"/>
<path class="t" d="M194.4 169.9 L192.7 174.2"/>
<path class="t" d="M196.2 171.2 L194.5 175.5"/>
<path class="t" d="M198.0 172.4 L196.3 176.7"/>
<ellipse class="w" cx="200.3" cy="178.3" rx="3.4" ry="7.0" transform="rotate(28 200.3 178.3)"/>
<ellipse class="t" cx="201.3" cy="178.9" rx="3.2" ry="6.4" transform="rotate(28 201.3 178.9)"/>
<path class="w" d="M203.1 171.6L206.4 170.4L211.2 174.0L213.6 178.2L213.0 183.6L210.0 186.2L206.4 185.7L201.0 182.4"/>
<ellipse class="w" cx="210.0" cy="181.0" rx="3.4" ry="4.8" transform="rotate(28 210.0 181.0)"/>
<path class="t" d="M203.6 175.8L207.0 177.8L207.2 182.4"/>
<path class="t" d="M207.0 177.8L209.6 174.6"/>
<path d="M177.8 265.0C178.0 263.1 178.5 264.0 179.5 261.6C180.4 259.2 181.9 253.9 183.7 250.5C185.5 247.1 189.0 243.0 190.5 241.2C192.1 239.3 192.5 240.6 193.1 239.5C193.6 238.3 193.1 235.6 193.9 234.4C194.8 233.1 196.9 232.1 198.2 232.1C199.4 232.1 200.6 233.6 201.6 234.4C202.6 235.1 202.3 236.2 204.1 236.9C206.0 237.6 209.8 237.6 212.6 238.6C215.5 239.6 218.9 240.9 221.1 242.9C223.4 244.8 225.0 248.1 226.2 250.5C227.4 252.9 227.3 255.5 228.3 257.3C229.3 259.2 231.1 260.1 232.2 261.6C233.3 263.0 234.6 264.1 234.7 265.8C234.9 267.5 233.9 270.5 233.0 271.8C232.2 273.0 230.2 271.9 229.6 273.5C229.0 275.0 229.9 278.1 229.3 281.1C228.7 284.1 227.6 287.9 226.2 291.3C224.9 294.7 223.1 299.0 221.1 301.5C219.1 304.0 216.6 305.5 214.3 306.3C212.1 307.1 209.6 307.4 207.5 306.3C205.4 305.2 203.5 301.0 201.6 299.8C199.6 298.6 197.5 300.1 195.6 299.0C193.8 297.8 192.5 295.6 190.5 293.0C188.5 290.5 185.5 286.2 183.7 283.7C181.9 281.1 180.4 279.6 179.5 277.7C178.5 275.9 178.0 274.7 177.8 272.6C177.5 270.5 177.5 266.8 177.8 265.0Z" fill="#fff" stroke="#000" stroke-width="1.7" stroke-linejoin="round"/>
<path d="M177.8 265.0C178.0 263.1 178.5 264.0 179.5 261.6C180.4 259.2 181.9 253.9 183.7 250.5C185.5 247.1 189.0 243.0 190.5 241.2C192.1 239.3 192.5 240.6 193.1 239.5C193.6 238.3 193.1 235.6 193.9 234.4C194.8 233.1 196.9 232.1 198.2 232.1C199.4 232.1 200.6 233.6 201.6 234.4C202.6 235.1 202.3 236.2 204.1 236.9C206.0 237.6 209.8 237.6 212.6 238.6C215.5 239.6 218.9 240.9 221.1 242.9C223.4 244.8 225.0 248.1 226.2 250.5C227.4 252.9 227.3 255.5 228.3 257.3C229.3 259.2 231.1 260.1 232.2 261.6C233.3 263.0 234.6 264.1 234.7 265.8C234.9 267.5 233.9 270.5 233.0 271.8C232.2 273.0 230.2 271.9 229.6 273.5C229.0 275.0 229.9 278.1 229.3 281.1C228.7 284.1 227.6 287.9 226.2 291.3C224.9 294.7 223.1 299.0 221.1 301.5C219.1 304.0 216.6 305.5 214.3 306.3C212.1 307.1 209.6 307.4 207.5 306.3C205.4 305.2 203.5 301.0 201.6 299.8C199.6 298.6 197.5 300.1 195.6 299.0C193.8 297.8 192.5 295.6 190.5 293.0C188.5 290.5 185.5 286.2 183.7 283.7C181.9 281.1 180.4 279.6 179.5 277.7C178.5 275.9 178.0 274.7 177.8 272.6C177.5 270.5 177.5 266.8 177.8 265.0Z" fill="url(#sp)" stroke="none"/>
<path class="k" d="M216.0 240.0C214.7 241.2 210.4 243.9 208.4 247.1C206.3 250.3 204.9 254.2 203.8 259.0C202.6 263.8 201.7 270.9 201.6 276.0C201.4 281.1 201.8 284.6 202.8 289.6C203.7 294.7 206.7 303.5 207.5 306.3"/>
<path class="k" d="M209.6 238.6C208.5 240.3 205.2 245.0 203.3 248.8C201.4 252.6 199.4 257.7 198.2 261.6C196.9 265.4 196.2 269.4 196.0 271.8C195.8 274.2 196.8 275.3 197.0 276.0"/>
<path class="k" d="M207.1 239.0C206.0 240.6 202.5 245.1 200.5 248.8C198.6 252.6 196.7 257.7 195.4 261.6C194.2 265.4 193.4 269.4 193.2 271.8C193.0 274.2 194.1 275.3 194.3 276.0"/>
<path class="k" d="M204.7 239.4C203.5 241.0 199.8 245.1 197.8 248.8C195.8 252.5 193.9 257.7 192.7 261.6C191.5 265.4 190.7 269.4 190.5 271.8C190.3 274.2 191.4 275.3 191.5 276.0"/>
<path class="k" d="M201.9 239.9C200.7 241.4 196.8 245.2 194.8 248.8C192.7 252.4 190.9 257.7 189.7 261.6C188.4 265.4 187.6 269.4 187.4 271.8C187.3 274.2 188.3 275.3 188.5 276.0"/>
<path class="k" d="M177.8 265.0C178.7 265.4 182.1 267.3 183.7 267.5C185.3 267.7 185.7 266.0 187.1 266.3C188.5 266.7 190.7 269.2 192.2 269.6C193.8 269.9 195.8 268.6 196.5 268.4"/>
<path class="k" d="M178.6 273.5C179.5 273.9 182.1 275.0 184.0 276.0C186.0 277.0 189.4 276.6 190.5 279.4C191.6 282.3 190.5 290.8 190.5 293.0"/>
<path class="k" d="M184.0 267.5C184.0 268.9 184.0 274.6 184.0 276.0"/>
<path class="k" d="M192.2 269.6C192.2 271.3 191.2 278.1 191.9 280.3C192.6 282.5 195.7 283.5 196.5 282.8C197.2 282.1 196.5 277.2 196.5 276.0"/>
<path class="k" d="M190.5 281.1C190.9 282.8 191.6 288.2 193.1 291.3C194.5 294.4 198.0 298.4 199.0 299.8"/>
<path class="k" d="M192.9 281.8C193.3 283.4 194.1 288.3 195.4 291.3C196.8 294.3 200.0 298.4 200.9 299.8"/>
<path class="k" d="M195.3 282.6C195.7 284.0 196.6 288.4 197.8 291.3C199.1 294.2 202.0 298.4 202.8 299.8"/>
<path class="k" d="M196.5 282.8C197.3 283.7 200.4 286.2 201.6 287.9C202.7 289.6 203.0 292.2 203.3 293.0"/>
<ellipse class="w" cx="216.6" cy="253.2" rx="4.4" ry="5.8" transform="rotate(20 216.6 253.2)"/>
<ellipse class="w" cx="215.8" cy="296.6" rx="4.4" ry="5.8" transform="rotate(20 215.8 296.6)"/>
<path class="w" d="M209.6 270.1L216.0 261.6L223.7 261.1L227.1 267.5L224.9 279.4L218.1 285.5L211.3 283.2L208.4 276.0Z"/>
<path class="k" d="M216.0 261.6L217.4 269.2L214.3 281.1L211.3 283.2"/>
<path class="k" d="M217.4 269.2L223.7 265.8L224.9 279.4"/>
<path class="k" d="M219.4 267.5L221.1 276.0L218.1 285.5"/>
<path class="k" d="M222.0 266.7L223.2 274.3L221.1 276.0"/>
<path class="k" d="M208.4 276.0L205.0 292.2L209.2 293.0L211.3 283.2"/>
<path class="t" d="M230.5 261.6C231.0 262.1 233.2 263.6 233.9 265.0C234.5 266.3 234.8 268.2 234.4 269.6C234.0 270.9 232.1 272.4 231.7 273.0"/>
<path class="t" d="M217.7 253.9 L281.0 289.0"/>
<path class="t" d="M216.0 297.3 L268.0 326.0"/>
<path d="M337.4 245.6C338.7 245.7 342.8 245.7 345.0 246.4C347.2 247.1 349.6 248.2 350.6 249.6C351.6 251.0 351.8 252.9 351.0 255.0C350.2 257.1 348.7 260.1 346.0 262.4C343.3 264.7 339.5 267.1 335.0 269.0C330.5 270.9 324.3 271.9 319.0 273.6C313.7 275.3 307.5 277.0 303.0 279.0C298.5 281.0 293.8 284.5 292.0 285.6" fill="none" stroke="#000" stroke-width="7.4" stroke-linecap="butt"/>
<path d="M337.4 245.6C338.7 245.7 342.8 245.7 345.0 246.4C347.2 247.1 349.6 248.2 350.6 249.6C351.6 251.0 351.8 252.9 351.0 255.0C350.2 257.1 348.7 260.1 346.0 262.4C343.3 264.7 339.5 267.1 335.0 269.0C330.5 270.9 324.3 271.9 319.0 273.6C313.7 275.3 307.5 277.0 303.0 279.0C298.5 281.0 293.8 284.5 292.0 285.6" fill="none" stroke="#fff" stroke-width="4.3" stroke-linecap="butt"/>
<path class="t" d="M330.0 269.0C330.7 268.8 333.3 267.8 334.0 267.6"/>
<path class="t" d="M327.4 230.0C327.7 231.3 328.0 235.3 329.0 238.0C330.0 240.7 332.7 244.7 333.4 246.0"/>
<path class="t" d="M330.0 228.4C330.3 229.9 330.6 234.4 331.6 237.2C332.6 240.0 335.1 244.0 335.7 245.3"/>
<path class="t" d="M332.6 226.9C332.9 228.5 333.3 233.5 334.2 236.4C335.1 239.4 337.4 243.3 338.1 244.7"/>
<path class="w" d="M310.0 217.0L317.0 212.4L335.0 221.6L335.0 232.0L328.0 237.2L320.0 237.2L310.0 232.0Z"/>
<path class="k" d="M310.0 217.0L320.0 222.0L328.0 226.0L335.0 221.6"/>
<path class="k" d="M320.0 222.0L320.0 237.2"/>
<path class="k" d="M328.0 226.0L328.0 237.2"/>
<path class="t" d="M312.0 219.4L312.0 231.6L318.6 235.0L318.6 222.8Z"/>
<path class="t" d="M321.6 223.6L321.6 236.0L326.6 236.0L326.6 226.4Z"/>
<path class="t" d="M329.4 226.0L329.4 234.4L333.8 231.2L333.8 223.2Z"/>
<path class="k" d="M315.0 213.6L315.0 210.4L309.0 208.0L308.6 209.6L313.0 212.0"/>
<path class="k" d="M320.0 215.0L320.6 211.6L328.0 214.4L328.0 218.0"/>
<path class="t" d="M317.0 212.4L318.0 210.0L315.0 209.0"/>
<path class="w" d="M278.0 295.4C275.4 297.4 272.1 300.8 270.3 303.9C268.5 307.0 267.3 310.7 266.9 314.1C266.5 317.5 266.9 321.3 267.8 324.3C268.6 327.3 268.7 329.6 272.0 332.0C275.3 334.3 281.6 336.4 287.3 338.3C293.0 340.2 301.6 342.7 306.0 343.4C310.4 344.0 310.8 344.2 313.7 342.2C316.5 340.1 320.9 334.7 323.0 331.1C325.2 327.6 327.0 324.2 326.4 320.9C325.9 317.7 322.2 313.7 319.6 311.6C317.1 309.4 315.8 311.0 311.1 308.2C306.4 305.3 295.8 297.3 291.6 294.6C287.3 291.9 287.9 291.9 285.6 292.0C283.3 292.1 280.5 293.4 278.0 295.4Z"/>
<path class="w" d="M270.0 304.3L264.4 307.0L264.4 300.5L271.2 296.8L272.0 300.5"/>
<path class="t" d="M280.5 297.1C279.4 298.5 275.3 302.5 273.7 305.6C272.1 308.7 271.4 312.6 271.2 315.8C270.9 319.1 271.2 322.3 272.0 325.2C272.9 328.0 275.5 331.5 276.3 332.8"/>
<path class="w" d="M312.0 319.6L327.3 326.0L333.2 336.2L328.1 347.3L323.0 346.8L313.7 342.2Z" style="stroke:none"/>
<ellipse class="w" cx="312.3" cy="326.0" rx="10.4" ry="17.9" transform="rotate(22 312.3 326.0)"/>
<ellipse class="t" cx="313.8" cy="326.9" rx="9.2" ry="16.6" transform="rotate(22 313.8 326.9)"/>
<ellipse class="k" cx="315.4" cy="327.8" rx="8.1" ry="15.3" transform="rotate(22 315.4 327.8)"/>
<ellipse class="t" cx="317.6" cy="329.4" rx="6.4" ry="12.6" transform="rotate(22 317.6 329.4)"/>
<path class="k" d="M314.9 320.6L327.3 326.0"/>
<path class="k" d="M313.7 342.7L323.4 347.1"/>
<path d="M314.9 320.9L327.3 326.4L323.4 346.8L314.2 342.3L311.1 332.8Z" fill="#fff" stroke="none"/>
<path class="t" d="M309.8 323.5C310.4 323.8 313.2 324.2 313.7 325.2C314.2 326.1 313.5 328.1 312.8 329.1C312.2 330.1 310.3 330.8 309.8 331.1"/>
<ellipse class="w" cx="326.4" cy="336.6" rx="7.4" ry="10.6" transform="rotate(22 326.4 336.6)"/>
<ellipse class="k" cx="325.2" cy="337.3" rx="3.9" ry="5.6" transform="rotate(22 325.2 337.3)"/>
<path class="w" d="M275.4 302.2C275.0 299.7 275.5 295.0 276.3 292.0C277.0 289.0 278.2 285.9 279.7 284.4C281.1 282.8 283.1 282.4 284.8 282.7C286.5 282.9 288.7 284.5 289.9 286.1C291.0 287.6 291.7 290.3 291.6 292.0C291.4 293.7 290.1 295.3 289.0 296.3C287.9 297.3 285.8 296.3 284.8 298.0C283.8 299.7 284.1 304.9 283.1 306.5C282.1 308.0 280.1 308.0 278.8 307.3C277.5 306.6 275.8 304.8 275.4 302.2Z"/>
<ellipse class="k" cx="287.3" cy="292.0" rx="2.2" ry="2.8" transform="rotate(0 287.3 292.0)"/>
<path class="t" d="M278.8 304.8C279.1 302.9 279.8 296.5 280.5 293.7C281.2 290.9 282.6 288.7 283.1 287.8"/>
<path class="t" d="M291.6 294.6L298.4 297.1L304.3 302.2L306.0 306.5"/>
<path class="w" d="M296.7 300.5L300.9 298.5L306.4 303.1L302.6 304.3Z" style="fill:#444"/>
<path class="w" d="M267.8 323.5C268.5 322.2 271.2 321.6 272.9 321.8C274.6 321.9 277.0 323.3 278.0 324.3C279.0 325.3 277.7 326.7 278.8 327.7C279.9 328.7 283.3 329.1 284.8 330.3C286.2 331.4 287.2 333.0 287.3 334.5C287.5 336.0 286.7 338.2 285.6 339.3C284.5 340.4 282.4 341.1 280.5 341.0C278.7 340.9 276.1 340.0 274.6 338.8C273.0 337.6 272.1 335.2 271.2 333.7C270.2 332.1 269.2 331.1 268.6 329.4C268.0 327.7 267.0 324.7 267.8 323.5Z"/>
<ellipse class="k" cx="283.4" cy="335.5" rx="2.1" ry="2.6" transform="rotate(0 283.4 335.5)"/>
<path class="k" d="M272.9 324.3L274.0 336.2"/>
<path class="k" d="M276.3 325.2L277.1 337.1"/>
<path class="t" d="M271.2 329.4L280.5 333.7"/>
<path class="t" d="M278.0 295.4C276.8 297.4 273.0 303.3 271.2 307.3C269.3 311.3 267.2 316.1 266.9 319.2C266.6 322.3 269.0 324.9 269.5 326.0"/>
<path class="t" d="M294.5 300.0L294.5 392.0L306.0 397.5"/>
<path class="w" d="M323.7 333.6L333.9 339.9L332.5 342.0L322.7 336.7"/>
<path class="w" d="M328.3 343.4L333.2 335.0L337.4 335.7L348.6 336.7L353.5 342.0L352.1 348.3L345.1 353.9L337.4 351.1L329.0 347.6Z" style="stroke-width:1.4"/>
<path class="t" d="M329.7 345.1L338.8 349.0L345.1 351.5L350.7 346.9"/>
<path class="k" d="M336.0 339.9L341.6 339.2L340.2 343.4L345.1 344.1L343.7 347.6L338.1 346.2Z"/>
<ellipse class="k" cx="358.5" cy="343.0" rx="6.5" ry="4.6" transform="rotate(-8 358.5 343.0)"/>
<ellipse class="t" cx="358.5" cy="343.8" rx="6.5" ry="4.6" transform="rotate(-8 358.5 343.8)"/>
<path class="w" d="M376.6 335.3L385.0 331.1L393.4 329.1L397.3 330.1L396.9 333.6L393.4 336.7L385.0 340.6L377.7 342.7Z"/>
<path class="t" d="M378.0 337.8L395.5 331.9"/>
<path class="t" d="M378.0 339.9L395.5 334.3"/>
<path class="t" d="M385.7 331.5L386.4 334.3L389.2 333.3L388.9 330.5"/>
<path class="w" d="M362.6 338.5L371.0 330.1L375.2 331.5L377.3 336.4L376.6 351.8L371.0 355.3L363.3 353.9L361.9 350.4Z" style="stroke-width:1.4"/>
<path class="t" d="M364.3 340.6L371.0 333.6L374.5 335.0L374.5 350.4L371.0 352.9L364.7 351.8Z"/>
<path class="k" d="M366.8 342.0L370.3 339.9L369.9 344.8L372.4 346.9L371.7 350.4L367.9 349.0Z"/>
<path class="w" d="M334.7 110.3L334.5 116.7L339.4 119.6L353.3 123.1L358.0 122.8L361.4 118.4L362.0 114.4Z"/>
<path class="k" d="M338.8 112.1L338.2 118.2"/>
<path class="k" d="M342.3 112.6L341.7 119.4"/>
<path class="k" d="M344.0 113.2L343.4 119.8"/>
<path class="t" d="M344.0 119.8L353.3 117.9L359.7 117.3"/>
<path class="w" d="M324.9 97.0C324.8 97.7 323.6 100.0 324.3 101.6C325.0 103.2 326.0 105.1 328.9 106.8C331.8 108.6 336.7 110.7 341.7 112.1C346.7 113.4 354.5 114.7 359.1 115.0C363.8 115.2 367.0 114.9 369.6 113.8C372.1 112.7 373.4 110.2 374.2 108.6C375.0 106.9 374.4 104.7 374.4 103.9"/>
<ellipse class="w" cx="349.6" cy="98.5" rx="25.3" ry="9.3" transform="rotate(13 349.6 98.5)"/>
<ellipse class="w" cx="350.3" cy="97.3" rx="14.5" ry="5.6" transform="rotate(10 350.3 97.3)"/>
<path class="k" d="M336.1 95.2C336.3 95.9 335.7 98.1 337.1 99.3C338.4 100.5 340.9 101.7 344.0 102.4C347.1 103.1 352.4 103.5 355.6 103.3C358.8 103.2 361.7 102.5 363.2 101.6C364.6 100.7 364.1 98.7 364.3 98.1"/>
<path class="k" d="M338.8 91.2C338.8 91.6 337.9 93.1 338.8 94.1C339.7 95.0 341.4 96.2 344.0 97.0C346.6 97.7 351.4 98.5 354.5 98.5C357.6 98.5 360.7 97.7 362.6 97.0C364.5 96.2 365.2 94.5 365.7 94.1"/>
<ellipse class="w" cx="352.2" cy="92.6" rx="13.6" ry="5.0" transform="rotate(10 352.2 92.6)"/>
<path class="k" d="M341.9 90.6L343.4 89.4L347.5 90.6L346.3 92.9L342.9 92.7Z"/>
<path class="w" d="M262.6 159.4C264.4 158.2 278.0 153.2 281.8 154.0C285.7 154.8 306.8 166.5 308.8 169.0C310.9 171.6 307.0 182.5 306.4 184.6C305.8 186.7 302.6 193.1 301.6 194.2C300.6 195.3 295.6 197.7 294.4 197.8C293.2 197.9 289.9 196.7 287.2 195.4C284.5 194.1 264.3 183.5 262.0 182.2C259.8 180.9 260.3 180.9 260.2 179.8C260.1 178.7 260.6 170.7 260.8 169.0C261.0 167.3 260.9 160.7 262.6 159.4Z"/>
<path class="k" d="M262.6 159.4L288.4 173.8L308.8 169.0"/>
<path class="k" d="M288.4 173.8C288.0 175.0 286.6 177.8 286.0 181.0C285.4 184.2 284.6 190.6 284.8 193.0C285.0 195.4 286.8 195.0 287.2 195.4"/>
<path class="t" d="M290.2 173.8C289.8 175.0 288.4 177.9 287.8 181.0C287.2 184.1 286.5 190.1 286.6 192.4C286.8 194.8 288.3 194.7 288.7 195.2"/>
<path class="t" d="M265.0 161.2C264.7 162.5 263.5 165.9 263.0 169.0C262.5 172.1 261.9 177.6 262.0 179.8C262.1 182.1 263.2 182.0 263.4 182.5"/>
<path class="k" d="M293.2 173.8C293.1 175.0 292.7 178.9 292.6 181.0C292.6 183.1 292.3 184.9 293.0 186.4C293.7 187.9 295.4 189.8 296.8 190.0C298.3 190.2 300.4 189.1 301.6 187.6C302.8 186.1 303.5 183.8 304.0 181.0C304.5 178.2 304.5 172.5 304.6 170.8"/>
<path class="t" d="M295.6 174.4C295.5 176.1 294.7 182.5 295.0 184.6C295.3 186.8 296.5 187.1 297.4 187.3C298.3 187.5 299.6 187.1 300.4 185.8C301.3 184.6 302.2 182.2 302.6 179.8C303.0 177.5 302.8 173.0 302.8 171.7"/>
<ellipse class="w" cx="297.5" cy="165.5" rx="4.2" ry="2.3" transform="rotate(15 297.5 165.5)"/>
<path class="k" d="M293.2 166.0C293.3 166.3 292.8 167.4 293.5 168.0C294.2 168.6 296.1 169.6 297.4 169.6C298.7 169.6 300.7 168.6 301.4 168.0C302.0 167.5 301.4 166.6 301.4 166.4"/>
<path class="k" d="M271.6 160.0C272.0 159.7 272.9 158.3 274.0 158.2C275.1 158.1 277.4 158.6 278.2 159.4C279.0 160.2 278.0 162.1 278.8 163.0C279.6 163.9 281.8 164.8 283.0 164.8C284.2 164.8 284.7 163.1 286.0 163.0C287.3 162.9 290.0 164.0 290.8 164.2"/>
<path class="t" d="M272.2 161.8C272.8 162.0 275.0 163.2 275.8 163.0C276.6 162.8 276.8 161.0 277.0 160.6"/>
<path class="k" d="M282.4 158.2C283.0 158.5 284.8 159.9 286.0 160.0C287.2 160.1 289.0 159.0 289.6 158.8"/>
<path class="k" d="M280.6 166.0C281.3 166.4 283.3 167.9 284.8 168.4C286.3 168.9 288.8 168.9 289.6 169.0"/>
<path class="w" d="M362.2 173.1L402.5 146.2L408.3 147.8L414.7 151.3L419.2 157.7L421.1 166.7L426.2 171.2L426.8 183.3L423.6 189.7L416.0 192.3L412.1 189.7L403.2 184.0L400.6 186.5L392.9 182.0L392.9 178.2L382.1 184.6L380.8 187.2L373.7 189.7L362.2 182.0Z"/>
<path class="k" d="M362.2 173.1C363.1 173.3 365.0 173.1 367.3 174.1C369.7 175.1 374.1 177.7 376.3 179.2C378.5 180.8 379.9 182.1 380.8 183.3C381.7 184.5 381.6 186.0 381.8 186.5"/>
<path class="k" d="M379.5 177.6L372.5 173.7L393.6 159.0L396.1 157.7L402.5 160.9L406.0 166.4L407.0 173.1L403.2 182.0"/>
<path class="k" d="M393.2 159.7L393.2 178.2"/>
<path class="k" d="M379.5 176.9C380.7 176.3 396.1 168.5 397.4 168.0C398.8 167.4 399.6 168.6 399.8 168.7C400.0 168.9 400.4 170.3 400.3 170.5C400.3 170.8 400.5 171.4 399.3 172.1C398.1 172.8 383.2 180.2 382.1 180.8"/>
<path class="k" d="M403.2 182.0C404.0 181.4 406.4 179.9 408.3 178.2C410.2 176.5 412.5 173.4 414.7 171.8C416.8 170.2 420.0 169.1 421.1 168.6"/>
<path class="k" d="M412.1 189.7C412.3 188.4 412.3 184.6 413.4 182.0C414.5 179.5 416.4 176.0 418.5 174.4C420.6 172.8 424.9 172.8 426.2 172.5"/>
<ellipse class="k" cx="419.8" cy="183.3" rx="3.4" ry="5.2" transform="rotate(12 419.8 183.3)"/>
<ellipse class="k" cx="419.8" cy="183.3" rx="1.4" ry="3.2" transform="rotate(12 419.8 183.3)"/>
<path class="t" d="M400.6 186.5L401.2 181.4L403.2 180.1"/>
<ellipse class="w" cx="582.6" cy="221.8" rx="8.8" ry="10.8" transform="rotate(25 582.6 221.8)" style="fill:#9a9a9a;stroke-width:1.4"/><ellipse class="w" cx="584.2" cy="222.5" rx="8.4" ry="10.2" transform="rotate(25 584.2 222.5)" style="fill:#777;stroke-width:0.9"/><ellipse class="w" cx="586.0" cy="223.3" rx="8.0" ry="9.6" transform="rotate(25 586.0 223.3)" style="fill:#aaa;stroke-width:0.9"/><ellipse class="w" cx="587.6" cy="224.0" rx="7.8" ry="9.0" transform="rotate(25 587.6 224.0)" style="fill:#9a9a9a;stroke-width:1.5"/><ellipse class="w" cx="587.8" cy="224.5" rx="5.5" ry="4.4" transform="rotate(-35 587.8 224.5)" style="fill:#fff;stroke-width:1.3"/><ellipse class="w" cx="587.0" cy="225.3" rx="3.6" ry="2.6" transform="rotate(-35 587.0 225.3)" style="fill:#fff;stroke-width:0.9"/>
<ellipse class="w" cx="664.2" cy="257.0" rx="8.8" ry="10.8" transform="rotate(25 664.2 257.0)" style="fill:#9a9a9a;stroke-width:1.4"/><ellipse class="w" cx="665.8" cy="257.7" rx="8.4" ry="10.2" transform="rotate(25 665.8 257.7)" style="fill:#777;stroke-width:0.9"/><ellipse class="w" cx="667.6" cy="258.5" rx="8.0" ry="9.6" transform="rotate(25 667.6 258.5)" style="fill:#aaa;stroke-width:0.9"/><ellipse class="w" cx="669.2" cy="259.2" rx="7.8" ry="9.0" transform="rotate(25 669.2 259.2)" style="fill:#9a9a9a;stroke-width:1.5"/><ellipse class="w" cx="669.4" cy="259.7" rx="5.5" ry="4.4" transform="rotate(-35 669.4 259.7)" style="fill:#fff;stroke-width:1.3"/><ellipse class="w" cx="668.6" cy="260.5" rx="3.6" ry="2.6" transform="rotate(-35 668.6 260.5)" style="fill:#fff;stroke-width:0.9"/>
<ellipse class="w" cx="733.4" cy="153.9" rx="8.8" ry="10.8" transform="rotate(25 733.4 153.9)" style="fill:#9a9a9a;stroke-width:1.4"/><ellipse class="w" cx="735.0" cy="154.6" rx="8.4" ry="10.2" transform="rotate(25 735.0 154.6)" style="fill:#777;stroke-width:0.9"/><ellipse class="w" cx="736.8" cy="155.4" rx="8.0" ry="9.6" transform="rotate(25 736.8 155.4)" style="fill:#aaa;stroke-width:0.9"/><ellipse class="w" cx="738.4" cy="156.1" rx="7.8" ry="9.0" transform="rotate(25 738.4 156.1)" style="fill:#9a9a9a;stroke-width:1.5"/><ellipse class="w" cx="738.6" cy="156.6" rx="5.5" ry="4.4" transform="rotate(-35 738.6 156.6)" style="fill:#fff;stroke-width:1.3"/><ellipse class="w" cx="737.8" cy="157.4" rx="3.6" ry="2.6" transform="rotate(-35 737.8 157.4)" style="fill:#fff;stroke-width:0.9"/>
<ellipse class="w" cx="778.4" cy="179.9" rx="8.8" ry="10.8" transform="rotate(25 778.4 179.9)" style="fill:#9a9a9a;stroke-width:1.4"/><ellipse class="w" cx="780.0" cy="180.6" rx="8.4" ry="10.2" transform="rotate(25 780.0 180.6)" style="fill:#777;stroke-width:0.9"/><ellipse class="w" cx="781.8" cy="181.4" rx="8.0" ry="9.6" transform="rotate(25 781.8 181.4)" style="fill:#aaa;stroke-width:0.9"/><ellipse class="w" cx="783.4" cy="182.1" rx="7.8" ry="9.0" transform="rotate(25 783.4 182.1)" style="fill:#9a9a9a;stroke-width:1.5"/><ellipse class="w" cx="783.6" cy="182.6" rx="5.5" ry="4.4" transform="rotate(-35 783.6 182.6)" style="fill:#fff;stroke-width:1.3"/><ellipse class="w" cx="782.8" cy="183.4" rx="3.6" ry="2.6" transform="rotate(-35 782.8 183.4)" style="fill:#fff;stroke-width:0.9"/>
<path class="t" d="M668.5 259.0 L680.5 265.7"/>
<path class="t" d="M783.0 182.0 L790.0 186.5"/>
<g transform="translate(619.8,216.8) rotate(-27)"><rect x="-16.8" y="-8.4" width="31.6" height="14.2" rx="7.1" fill="#9a9a9a" stroke="#000" stroke-width="1.3"/><rect x="-15.7" y="-7.1" width="31.2" height="13.6" rx="6.8" fill="#777" stroke="#000" stroke-width="0.9"/><rect x="-14.8" y="-6.0" width="30.8" height="13.0" rx="6.5" fill="#aaa" stroke="#000" stroke-width="0.8"/><rect x="-13.8" y="-4.9" width="30.2" height="12.4" rx="6.2" fill="#9a9a9a" stroke="#000" stroke-width="1.5"/><rect x="-8.8" y="-1.6" width="20.6" height="6.0" rx="3.0" fill="#fff" stroke="#000" stroke-width="1.3"/><path d="M-6.2 3.2H8.6" fill="none" stroke="#000" stroke-width="0.7"/></g>
<g transform="translate(651.0,234.3) rotate(-27)"><rect x="-16.8" y="-8.4" width="31.6" height="14.2" rx="7.1" fill="#9a9a9a" stroke="#000" stroke-width="1.3"/><rect x="-15.7" y="-7.1" width="31.2" height="13.6" rx="6.8" fill="#777" stroke="#000" stroke-width="0.9"/><rect x="-14.8" y="-6.0" width="30.8" height="13.0" rx="6.5" fill="#aaa" stroke="#000" stroke-width="0.8"/><rect x="-13.8" y="-4.9" width="30.2" height="12.4" rx="6.2" fill="#9a9a9a" stroke="#000" stroke-width="1.5"/><rect x="-8.8" y="-1.6" width="20.6" height="6.0" rx="3.0" fill="#fff" stroke="#000" stroke-width="1.3"/><path d="M-6.2 3.2H8.6" fill="none" stroke="#000" stroke-width="0.7"/></g>
<path class="w" d="M411.0 356.0L421.0 349.0L425.0 349.0L428.6 352.4L429.0 357.0L424.0 361.6L420.0 360.0L416.0 359.0L411.0 358.4Z"/>
<ellipse class="k" cx="425.6" cy="356.6" rx="2.2" ry="2.6" transform="rotate(0 425.6 356.6)"/>
<path class="t" d="M411.0 356.0L416.0 356.8L421.0 358.4L424.0 361.6"/>
<path class="w" d="M400.0 365.0C402.5 362.5 406.2 359.5 410.0 359.0C413.8 358.5 418.0 360.2 423.0 362.0C428.0 363.8 436.0 367.5 440.0 370.0C444.0 372.5 444.7 374.3 447.0 377.0C449.3 379.7 451.8 383.2 454.0 386.0C456.2 388.8 458.5 391.5 460.0 394.0C461.5 396.5 462.6 398.3 463.0 401.0C463.4 403.7 463.1 407.3 462.4 410.0C461.7 412.7 460.7 415.0 459.0 417.0C457.3 419.0 454.2 421.0 452.0 422.0C449.8 423.0 448.0 422.0 446.0 423.0C444.0 424.0 442.2 426.7 440.0 428.0C437.8 429.3 435.3 430.8 433.0 431.0C430.7 431.2 428.5 430.0 426.0 429.0C423.5 428.0 421.0 426.5 418.0 425.0C415.0 423.5 411.2 421.8 408.0 420.0C404.8 418.2 401.5 416.2 399.0 414.0C396.5 411.8 394.0 409.0 393.0 407.0C392.0 405.0 393.5 403.5 393.0 402.0C392.5 400.5 390.6 400.5 390.0 398.0C389.4 395.5 389.3 389.5 389.6 387.0C389.9 384.5 391.1 385.2 392.0 383.0C392.9 380.8 393.7 377.0 395.0 374.0C396.3 371.0 397.5 367.5 400.0 365.0Z"/>
<path class="k" d="M389.6 387.0C390.0 386.3 389.3 382.5 392.0 383.0C394.7 383.5 401.5 387.5 406.0 390.0C410.5 392.5 415.7 396.2 419.0 398.0C422.3 399.8 423.6 400.7 426.0 401.0C428.4 401.3 431.3 401.2 433.6 400.0C435.9 398.8 438.3 396.0 440.0 394.0C441.7 392.0 443.3 389.0 444.0 388.0"/>
<path class="k" d="M390.0 398.0C392.7 399.3 401.0 403.4 406.0 406.0C411.0 408.6 416.5 411.9 420.0 413.6C423.5 415.3 424.6 415.8 427.0 416.4C429.4 417.0 432.5 416.3 434.4 417.0C436.3 417.7 437.7 419.8 438.4 420.4"/>
<path class="k" d="M410.0 389.0C409.9 387.5 408.9 382.7 409.6 380.0C410.3 377.3 412.1 374.8 414.0 373.0C415.9 371.2 419.8 369.7 421.0 369.0"/>
<path class="t" d="M412.0 390.0C412.0 388.5 411.3 383.5 412.0 381.0C412.7 378.5 414.3 376.7 416.0 375.0C417.7 373.3 421.0 371.7 422.0 371.0"/>
<path class="k" d="M425.6 398.0C425.6 395.8 424.7 388.5 425.6 385.0C426.5 381.5 428.9 379.0 431.0 377.0C433.1 375.0 436.8 373.7 438.0 373.0"/>
<path class="t" d="M433.6 400.0C433.8 398.5 433.9 393.5 435.0 391.0C436.1 388.5 438.0 386.7 440.0 385.0C442.0 383.3 445.8 381.7 447.0 381.0"/>
<path class="k" d="M406.0 406.6L407.2 419.6"/>
<path class="t" d="M409.2 408.2L410.4 421.2"/>
<path class="k" d="M426.4 416.8L426.8 429.2"/>
<path class="k" d="M438.4 420.4C437.8 419.3 435.7 416.4 435.0 414.0C434.3 411.6 433.9 408.8 434.4 406.0C434.9 403.2 436.1 399.5 438.0 397.0C439.9 394.5 443.3 392.2 446.0 391.0C448.7 389.8 452.7 390.2 454.0 390.0"/>
<ellipse class="w" cx="453.4" cy="407.0" rx="9.6" ry="13.4" transform="rotate(22 453.4 407.0)"/>
<ellipse class="k" cx="454.0" cy="407.4" rx="7.0" ry="10.0" transform="rotate(22 454.0 407.4)"/>
<ellipse class="k" cx="454.6" cy="407.8" rx="4.8" ry="7.2" transform="rotate(22 454.6 407.8)"/>
<path class="t" d="M449.0 400.0L450.0 406.0"/>
<path class="t" d="M457.0 402.0L456.0 410.0"/>
<path class="t" d="M448.0 412.0L451.0 415.0"/>
<path class="k" d="M427.5 357.6L462.2 377.6" style="stroke-width:1.7"/>
<path class="w" d="M461.6 376.4L471.6 381.0L470.4 384.4L461.0 379.6Z"/>
<path class="k" d="M462.2 376.6 L461.2 380.2"/>
<path class="k" d="M464.2 377.6 L463.2 381.1"/>
<path class="k" d="M466.2 378.5 L465.2 382.1"/>
<path class="k" d="M468.2 379.5 L467.2 383.1"/>
<path class="k" d="M470.2 380.4 L469.2 384.0"/>
<path class="w" d="M471.0 380.0L475.0 379.2L478.0 381.0L474.0 389.0L470.0 385.0Z"/>
<ellipse class="w" cx="478.3" cy="385.8" rx="3.6" ry="5.2" transform="rotate(25 478.3 385.8)"/>
<path class="t" d="M476.5 384.0 L480.5 388.0"/>
<path class="t" d="M480.0 383.5 L477.0 388.5"/>
<path class="w" d="M306.7 395.5L321.1 403.7L318.6 408.3L305.5 400.3Z"/>
<path class="k" d="M307.8 396.2 L306.1 400.3"/>
<path class="k" d="M310.2 397.5 L308.5 401.6"/>
<path class="k" d="M312.6 398.9 L310.9 403.0"/>
<path class="k" d="M315.0 400.3 L313.3 404.3"/>
<path class="k" d="M317.4 401.6 L315.7 405.7"/>
<ellipse class="w" cx="321.6" cy="407.0" rx="3.6" ry="9.2" transform="rotate(28 321.6 407.0)" style="fill:#ccc"/>
<ellipse class="w" cx="323.2" cy="407.8" rx="3.4" ry="8.8" transform="rotate(28 323.2 407.8)"/>
<ellipse class="w" cx="326.0" cy="409.4" rx="3.0" ry="7.6" transform="rotate(28 326.0 409.4)" style="fill:#ccc"/>
<ellipse class="w" cx="327.4" cy="410.2" rx="2.8" ry="7.2" transform="rotate(28 327.4 410.2)"/>
<path class="w" d="M328.2 404.9L333.9 406.6L339.8 410.8L340.7 416.8L337.3 421.0L331.3 420.7L326.5 415.6Z"/>
<ellipse class="w" cx="336.2" cy="414.6" rx="4.0" ry="5.8" transform="rotate(28 336.2 414.6)"/>
<path class="t" d="M327.9 410.0L332.2 412.5L332.7 419.3"/>
<path class="w" d="M219.6 391.6C218.6 391.1 209.2 387.0 207.0 386.0C204.8 385.0 194.9 380.1 193.5 379.5C192.1 378.8 191.0 378.5 190.6 378.6C190.3 378.6 189.5 379.4 189.4 379.7C189.3 380.1 188.4 381.7 189.5 382.6C190.5 383.5 199.6 388.8 201.6 390.0C203.6 391.2 212.7 396.4 213.8 397.0"/>
<path class="t" d="M194.9 381.9L209.7 389.4"/>
<path class="t" d="M191.7 382.6L212.4 394.5"/>
<path class="w" d="M213.8 399.0C214.3 397.9 218.4 393.8 219.6 393.0C220.8 392.1 224.5 390.5 225.9 390.3C227.3 390.2 232.7 390.6 234.0 391.2C235.4 391.9 238.8 396.0 239.4 397.0C240.0 398.0 240.4 400.2 239.9 401.1C239.3 402.0 235.3 405.2 234.0 406.0C232.7 406.8 228.2 409.1 226.8 409.2C225.4 409.2 220.8 407.5 219.6 406.9C218.4 406.3 215.0 404.3 214.4 403.5C213.8 402.7 213.2 400.0 213.8 399.0Z" style="stroke-width:1.5"/>
<path class="t" d="M214.0 401.1C214.6 401.4 218.3 404.1 219.6 404.7C220.9 405.2 225.4 407.0 226.8 406.9C228.2 406.8 232.7 404.8 234.0 404.0C235.3 403.2 239.0 399.5 239.6 399.0"/>
<path class="w" d="M218.7 399.7L225.0 393.9L233.1 394.3L237.2 398.8L228.6 404.7L221.4 403.8Z" style="fill:#666"/>
<path class="w" d="M222.3 400.2L226.4 396.6L231.8 396.8L229.1 399.7L230.4 401.5L226.8 403.1L225.5 401.1Z" style="stroke-width:0.9"/>
</g>

<!-- LABELS -->
<g id="labels">
<text class="l" x="333.5" y="47" text-anchor="middle">1</text>
<text class="l" x="199.5" y="144" text-anchor="middle">15</text>
<text class="l" x="66.75" y="255" text-anchor="middle">4</text>
<text class="l" x="119.75" y="286" text-anchor="middle">7</text>
<text class="l" x="199.75" y="335" text-anchor="middle">3</text>
<text class="l" x="370.5" y="276.5" text-anchor="middle">2</text>
<text class="l" x="214.75" y="440.5" text-anchor="middle">6</text>
<text class="l" x="323.75" y="452" text-anchor="middle">13</text>
<text class="l" x="419" y="454" text-anchor="middle">5</text>
<text class="l" x="472.5" y="356.5" text-anchor="middle">14</text>
<text class="l" x="577" y="64" text-anchor="middle">8</text>
<text class="l" x="735" y="123" text-anchor="middle">9</text>
<text class="l" x="779.75" y="150" text-anchor="middle">9</text>
<text class="l" x="584" y="264" text-anchor="middle">10</text>
<text class="l" x="619.5" y="259.5" text-anchor="middle">11</text>
<text class="l" x="652" y="202.5" text-anchor="middle">11</text>
<text class="l" x="666" y="301" text-anchor="middle">10</text>
<text class="l" x="810.5" y="445" text-anchor="middle">12</text>
<text class="b" x="270.3" y="100.7" font-size="15" textLength="25.4" lengthAdjust="spacingAndGlyphs" stroke="#000" stroke-width="0.8">F-9</text>
<text class="b" x="262.8" y="117.2" font-size="15" textLength="39.4" lengthAdjust="spacingAndGlyphs" stroke="#000" stroke-width="0.8">F-9-1</text>
<text class="b" x="408.4" y="105.1" font-size="15" textLength="33.9" lengthAdjust="spacingAndGlyphs" stroke="#000" stroke-width="0.8">F-21</text>
<text class="b" x="377.1" y="235.9" font-size="15" textLength="35.1" lengthAdjust="spacingAndGlyphs" stroke="#000" stroke-width="0.8">F-39</text>
<text class="b" x="931" y="487.5" text-anchor="middle" font-size="11">MJA4F2400</text>
<g transform="translate(45.2,474.2) rotate(-29)"><text class="b" x="0" y="0" font-size="16" stroke="#000" stroke-width="0.7">FR.</text></g>
</g>
</svg>
</body>
</html>
